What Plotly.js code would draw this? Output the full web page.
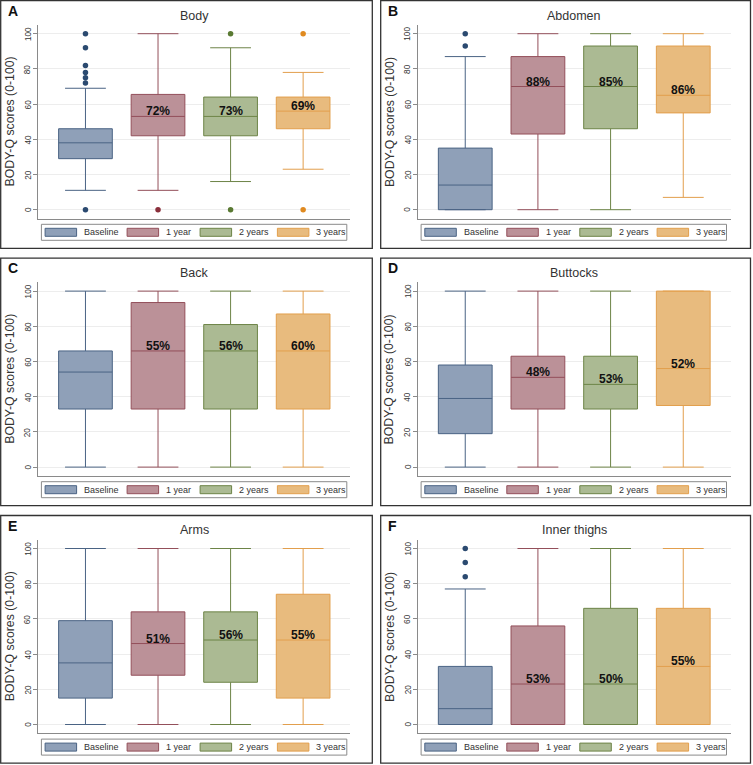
<!DOCTYPE html>
<html>
<head>
<meta charset="utf-8">
<script src="https://cdn.plot.ly/plotly-3.0.1.min.js"></script>
<style>html,body{margin:0;padding:0;background:#fff;}#chart{width:753px;height:765px;}</style>
</head>
<body>
<div id="chart"></div>
<script>
// ---------- DATA ----------
const groups = ['Baseline', '1 year', '2 years', '3 years'];
const panelLetters = ['A', 'B', 'C', 'D', 'E', 'F'];
const panelTitles = ['Body', 'Abdomen', 'Back', 'Buttocks', 'Arms', 'Inner thighs'];

// per panel, per group: [Baseline, 1 year, 2 years, 3 years]
const lowerWhisker = [
  [11, 11, 16, 23],
  [0, 0, 0, 7],
  [0, 0, 0, 0],
  [0, 0, 0, 0],
  [0, 0, 0, 0],
  [0, 0, 0, 0]
];
const q1Values = [
  [29, 42, 42, 46],
  [0, 43, 46, 55],
  [33, 33, 33, 33],
  [19, 33, 33, 35],
  [15, 28, 24, 15],
  [0, 0, 0, 0]
];
const medianValues = [
  [38, 53, 53, 56],
  [14, 70, 70, 65],
  [54, 66, 66, 66],
  [39, 51, 47, 56],
  [35, 46, 48, 48],
  [9, 23, 23, 33]
];
const q3Values = [
  [46, 65.5, 64, 64],
  [35, 87, 93, 93],
  [66, 93.5, 81, 87],
  [58, 63, 63, 100],
  [59, 64, 64, 74],
  [33, 56, 66, 66]
];
const upperWhisker = [
  [69, 100, 92, 78],
  [87, 100, 100, 100],
  [100, 100, 100, 100],
  [100, 100, 100, 100],
  [100, 100, 100, 100],
  [77, 100, 100, 100]
];
const outlierValues = [
  [[100, 92, 82, 78, 75, 72, 0], [0], [100, 0], [100, 0]],
  [[100, 93], [], [], []],
  [[], [], [], []],
  [[], [], [], []],
  [[], [], [], []],
  [[100, 92, 84], [], [], []]
];
const pctLabels = [
  [null, '72%', '73%', '69%'],
  [null, '88%', '85%', '86%'],
  [null, '55%', '56%', '60%'],
  [null, '48%', '53%', '52%'],
  [null, '51%', '56%', '55%'],
  [null, '53%', '50%', '55%']
];
const yTicks = [0, 20, 40, 60, 80, 100];

// ---------- STYLE ----------
const fillColors = ['#8fa0b8', '#bb9198', '#abba93', '#e8bb7e'];
const lineColors = ['#4a6384', '#934f5a', '#6d8447', '#e29f4d'];
const dotColors  = ['#2b4a70', '#8a2f3b', '#5a7a33', '#e08a20'];
const FONT = 'Liberation Sans, Arial, sans-serif';

const W = 753, H = 765;
const fx = p => p / W;
const fy = p => 1 - p / H;

const colPlot = [[38.3, 350.3], [418, 730.5]];
const colFrame = [[0.7, 372.3], [380.7, 750.5]];
const rowStep = 257.4;

const traces = [];
const shapes = [];
const annotations = [];
const layout = {
  width: W, height: H,
  margin: {l: 0, r: 0, t: 0, b: 0},
  paper_bgcolor: '#ffffff',
  plot_bgcolor: '#ffffff',
  showlegend: false,
  font: {family: FONT, color: '#333'}
};

// legend layout (offsets from legend box left, px)
const legSwatchX = [3.7, 85.7, 158.7, 236];
const legTextX = [40.4, 122.7, 195.4, 273];

for (let p = 0; p < 6; p++) {
  const c = p % 2, r = Math.floor(p / 2);
  const k = p + 1;
  const xa = 'x' + k, ya = 'y' + k;
  const xKey = k === 1 ? 'xaxis' : 'xaxis' + k;
  const yKey = k === 1 ? 'yaxis' : 'yaxis' + k;
  const top = 24.9 + r * rowStep, bot = 218.5 + r * rowStep;
  const left = colPlot[c][0], right = colPlot[c][1];

  layout[xKey] = {
    domain: [fx(left), fx(right)], anchor: ya, type: 'category',
    range: [-0.65, 3.65], showline: true, linecolor: '#8a8a8a', linewidth: 1,
    showgrid: false, zeroline: false, ticks: '', showticklabels: false, fixedrange: true
  };
  layout[yKey] = {
    domain: [fy(bot), fy(top)], anchor: xa, range: [-5, 105],
    tickvals: yTicks, showticklabels: false,
    ticks: 'outside', ticklen: 4, tickcolor: '#8a8a8a', tickwidth: 1,
    showline: true, linecolor: '#8a8a8a', linewidth: 1,
    showgrid: true, gridcolor: '#ededed', gridwidth: 1, zeroline: false,
    fixedrange: true
  };

  // rotated tick labels
  yTicks.forEach(t => {
    annotations.push({xref: 'paper', yref: ya, x: fx(left - 10), y: t,
      text: String(t), showarrow: false, textangle: -90, xanchor: 'center', yanchor: 'middle',
      font: {size: 8.2, color: '#333', family: FONT}});
  });

  for (let g = 0; g < 4; g++) {
    traces.push({
      type: 'box', xaxis: xa, yaxis: ya,
      x: [groups[g]],
      q1: [q1Values[p][g]], median: [medianValues[p][g]], q3: [q3Values[p][g]],
      lowerfence: [lowerWhisker[p][g]], upperfence: [upperWhisker[p][g]],
      fillcolor: fillColors[g], line: {color: lineColors[g], width: 1},
      width: 0.74, whiskerwidth: 0.76, boxpoints: false, hoverinfo: 'skip'
    });
    const outs = outlierValues[p][g];
    if (outs.length) {
      traces.push({
        type: 'scatter', mode: 'markers', xaxis: xa, yaxis: ya,
        x: outs.map(() => groups[g]), y: outs,
        marker: {color: dotColors[g], size: 5.5}, hoverinfo: 'skip'
      });
    }
    if (pctLabels[p][g]) {
      annotations.push({
        xref: xa, yref: ya, x: groups[g], y: medianValues[p][g],
        text: '<b>' + pctLabels[p][g] + '</b>', showarrow: false,
        yanchor: 'middle', xanchor: 'center', yshift: 5,
        font: {size: 12, color: '#111', family: FONT}
      });
    }
  }

  // frame
  const fTop = 0.7 + r * rowStep, fBot = 248.3 + r * rowStep;
  shapes.push({type: 'rect', xref: 'paper', yref: 'paper',
    x0: fx(colFrame[c][0]), x1: fx(colFrame[c][1]), y0: fy(fBot), y1: fy(fTop),
    line: {color: '#333', width: 1.3}, fillcolor: 'rgba(0,0,0,0)', layer: 'below'});

  // panel letter
  annotations.push({xref: 'paper', yref: 'paper', x: fx(colFrame[c][0] + 5), y: fy(fTop + 10),
    text: '<b>' + panelLetters[p] + '</b>', showarrow: false, xanchor: 'left', yanchor: 'middle',
    font: {size: 14, color: '#111', family: FONT}});
  // title
  annotations.push({xref: 'paper', yref: 'paper', x: fx((left + right) / 2), y: fy(top - 9.2),
    text: panelTitles[p], showarrow: false, xanchor: 'center', yanchor: 'middle',
    font: {size: 12.5, color: '#333', family: FONT}});
  // y axis title
  annotations.push({xref: 'paper', yref: 'paper', x: fx(left - 28.6), y: fy((top + bot) / 2),
    text: 'BODY-Q scores (0-100)', showarrow: false, textangle: -90, xanchor: 'center', yanchor: 'middle',
    font: {size: 12.3, color: '#333', family: FONT}});

  // legend
  const lLeft = left + 3.1, lTop = bot + 5.8, lBot = lTop + 16;
  shapes.push({type: 'rect', xref: 'paper', yref: 'paper',
    x0: fx(lLeft), x1: fx(lLeft + 305.4), y0: fy(lBot), y1: fy(lTop),
    line: {color: '#8a8a8a', width: 1}, fillcolor: '#ffffff'});
  for (let g = 0; g < 4; g++) {
    shapes.push({type: 'rect', xref: 'paper', yref: 'paper',
      x0: fx(lLeft + legSwatchX[g]), x1: fx(lLeft + legSwatchX[g] + 31.5),
      y0: fy(lTop + 12), y1: fy(lTop + 4),
      line: {color: lineColors[g], width: 1}, fillcolor: fillColors[g]});
    annotations.push({xref: 'paper', yref: 'paper', x: fx(lLeft + legTextX[g]), y: fy(lTop + 8),
      text: groups[g], showarrow: false, xanchor: 'left', yanchor: 'middle',
      font: {size: 9, color: '#333', family: FONT}});
  }
}

layout.shapes = shapes;
layout.annotations = annotations;

Plotly.newPlot('chart', traces, layout, {staticPlot: true, displayModeBar: false});
</script>
</body>
</html>
